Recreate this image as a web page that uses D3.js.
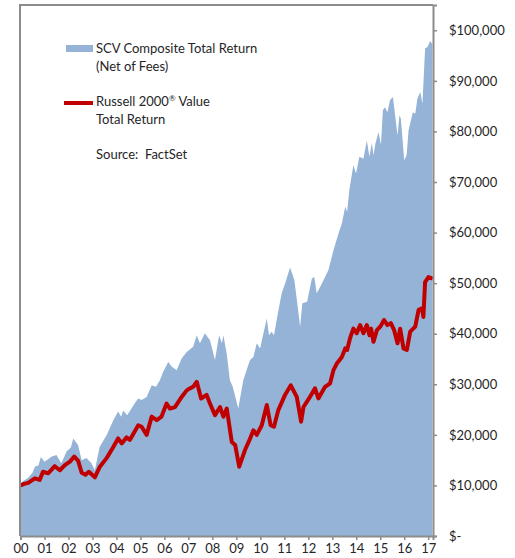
<!DOCTYPE html>
<html>
<head>
<meta charset="utf-8">
<script src="https://cdn.jsdelivr.net/npm/d3@7"></script>
<style>
  body { margin: 0; background: #fff; }
  text { font-family: Lato, "Open Sans", sans-serif; fill: #262626; }
</style>
</head>
<body>
<div id="chart"></div>
<script>
// years since Jan 2000 (decimal) and growth of $10,000
const scvYears = [0.00,0.05,0.32,0.5,0.6,0.75,0.85,1.0,1.15,1.3,1.5,1.7,1.92,2.1,2.2,2.4,2.55,2.75,2.96,3.1,
  3.3,3.6,3.87,4.07,4.2,4.28,4.45,4.77,4.91,5.05,5.26,5.47,5.65,5.81,5.95,6.16,6.3,6.51,6.72,6.93,
  7.2,7.35,7.48,7.69,7.9,8.11,8.28,8.4,8.46,8.6,8.73,8.85,9.08,9.29,9.45,9.57,9.71,9.85,9.99,10.13,
  10.27,10.36,10.47,10.57,10.68,10.89,11.03,11.24,11.42,11.66,11.75,11.95,12.15,12.25,12.35,12.5,12.7,12.84,13.05,13.26,
  13.4,13.54,13.62,13.71,13.88,13.99,14.13,14.3,14.44,14.55,14.65,14.72,14.8,14.93,15.03,15.11,15.2,15.3,15.41,15.53,
  15.58,15.72,15.8,15.86,16.0,16.1,16.18,16.36,16.46,16.55,16.67,16.76,16.87,16.97,17.08,17.17];
const scvValues = [10000,10700,11500,12500,13700,14000,15600,14700,15200,15700,16000,14400,16700,17500,19300,18000,15000,15400,14400,13000,
  17600,20000,22900,24600,23600,24800,23900,26300,27200,26900,27500,29800,29500,30800,32500,34400,33500,32800,35100,36400,
  37400,39700,38100,40100,38700,34800,39700,38100,39700,36000,30800,29500,25200,30800,33100,34800,35400,38100,37100,40100,
  43000,39700,40400,39700,42700,48000,49900,53100,50600,41400,46000,46300,50900,51200,48000,49300,51200,52600,56500,59800,
  61800,65100,64100,68400,73300,71700,75000,74600,78200,75000,77700,75300,77600,79900,77300,84200,84800,83800,86200,86800,
  84800,79200,83200,82500,74300,75300,80200,83800,83500,86500,87800,85500,96400,96700,97900,97300];

const r2vYears = [0.00,0.15,0.32,0.6,0.8,0.94,1.15,1.43,1.64,1.85,2.06,2.24,2.4,2.55,2.71,2.85,3.1,3.31,3.59,3.87,
  4.07,4.22,4.42,4.56,4.91,5.05,5.26,5.47,5.68,5.88,6.09,6.23,6.44,6.72,6.93,7.07,7.2,7.35,7.53,7.76,
  7.9,8.11,8.32,8.46,8.6,8.81,8.95,9.12,9.36,9.55,9.71,9.85,10.06,10.27,10.43,10.57,10.75,11.03,11.27,11.52,
  11.7,11.8,12.07,12.28,12.42,12.7,12.91,13.05,13.19,13.4,13.54,13.62,13.74,13.88,14.02,14.16,14.3,14.44,14.55,14.62,
  14.72,14.86,15.0,15.16,15.3,15.44,15.58,15.72,15.83,15.97,16.11,16.25,16.46,16.6,16.74,16.8,16.87,17.01,17.19];
const r2vValues = [10000,10300,10500,11400,11100,12700,12400,13800,13000,14000,14700,15700,14900,12500,12100,12700,11600,13700,15400,17600,
  19300,18300,19500,19000,21900,21600,20000,23600,22900,23600,26200,25200,25500,27500,28800,29200,29500,30500,27200,27900,
  26200,23900,25500,23600,25200,18600,18000,13700,17000,19000,20900,20000,21900,25900,21900,21600,24900,27900,29800,27500,
  22600,25500,27500,29200,27200,29500,30200,32800,34100,35400,37100,36800,39100,41000,40100,41700,40100,41700,39700,41000,
  38400,40700,41400,42700,41700,42100,40700,38100,41000,37100,36800,40400,41400,44700,45000,43300,50200,51200,50900];

const yTicks = [0,10000,20000,30000,40000,50000,60000,70000,80000,90000,100000];
const xTickLabels = ["00","01","02","03","04","05","06","07","08","09","10","11","12","13","14","15","16","17"];

const seriesNames = ["SCV Composite Total Return", "(Net of Fees)"];

const width = 515, height = 558;
const margin = ({top: 5, right: 82, bottom: 22, left: 20});

const svg = d3.select("#chart")
  .append("svg")
    .attr("width", width)
    .attr("height", height);

const x = d3.scaleLinear()
  .domain([0, 17.2])
  .range([margin.left + 0.5, width - margin.right]);

const y = d3.scaleLinear()
  .domain([0, 105000])
  .range([height - margin.bottom, margin.top]);

const scv = scvYears.map((t, i) => ({t: t, v: scvValues[i]}));
const r2v = r2vYears.map((t, i) => ({t: t, v: r2vValues[i]}));

// blue area
svg.append("path")
  .datum(scv)
  .attr("fill", "#95b3d7")
  .attr("d", d3.area().x(d => x(d.t)).y0(y(0)).y1(d => y(d.v)));

// red line
svg.append("path")
  .datum(r2v)
  .attr("fill", "none")
  .attr("stroke", "#c00000")
  .attr("stroke-width", 4)
  .attr("stroke-linejoin", "round")
  .attr("d", d3.line().x(d => x(d.t)).y(d => y(d.v)));

// frame: left + top
svg.append("path")
  .attr("fill", "none")
  .attr("stroke", "#8c8c8c")
  .attr("stroke-width", 2)
  .attr("d", `M${margin.left},${height - margin.bottom}V${margin.top}H${width - margin.right}`);

const fmt = v => v === 0 ? "$-" : "$" + d3.format(",")(v);

const yAxis = g => g
  .attr("transform", `translate(${width - margin.right},0)`)
  .call(d3.axisRight(y).tickValues(yTicks).tickFormat(fmt).tickSize(4).tickPadding(12))
  .call(g => g.select(".domain").attr("stroke", "#8c8c8c").attr("stroke-width", 2))
  .call(g => g.selectAll(".tick line").attr("stroke", "#8c8c8c").attr("stroke-width", 1.5))
  .call(g => g.selectAll(".tick text").attr("font-size", 13).attr("font-family", "Lato"));

const xAxis = g => g
  .attr("transform", `translate(0,${height - margin.bottom})`)
  .call(d3.axisBottom(x).tickValues(d3.range(18)).tickFormat(i => xTickLabels[i]).tickSize(4).tickPadding(4))
  .call(g => g.select(".domain").attr("stroke", "#8c8c8c").attr("stroke-width", 2))
  .call(g => g.selectAll(".tick line").attr("stroke", "#8c8c8c").attr("stroke-width", 1.5))
  .call(g => g.selectAll(".tick text").attr("font-size", 13).attr("font-family", "Lato"));

svg.append("g").call(yAxis);
svg.append("g").call(xAxis);

// legend
const legend = svg.append("g").attr("font-size", 13);

legend.append("rect")
  .attr("x", 66).attr("y", 45)
  .attr("width", 27).attr("height", 7)
  .attr("fill", "#95b3d7");

legend.append("text").attr("x", 96).attr("y", 53).text(seriesNames[0]);
legend.append("text").attr("x", 96).attr("y", 71).text(seriesNames[1]);

legend.append("line")
  .attr("x1", 64).attr("x2", 93)
  .attr("y1", 103).attr("y2", 103)
  .attr("stroke", "#c00000")
  .attr("stroke-width", 4);

const rt = legend.append("text").attr("x", 96).attr("y", 106);
rt.append("tspan").text("Russell 2000");
rt.append("tspan").attr("font-size", 8).attr("dy", -5).text("®");
rt.append("tspan").attr("dy", 5).text(" Value");
legend.append("text").attr("x", 96).attr("y", 124).text("Total Return");

legend.append("text").attr("x", 96).attr("y", 159).text("Source:  FactSet").attr("xml:space", "preserve");
</script>
</body>
</html>
